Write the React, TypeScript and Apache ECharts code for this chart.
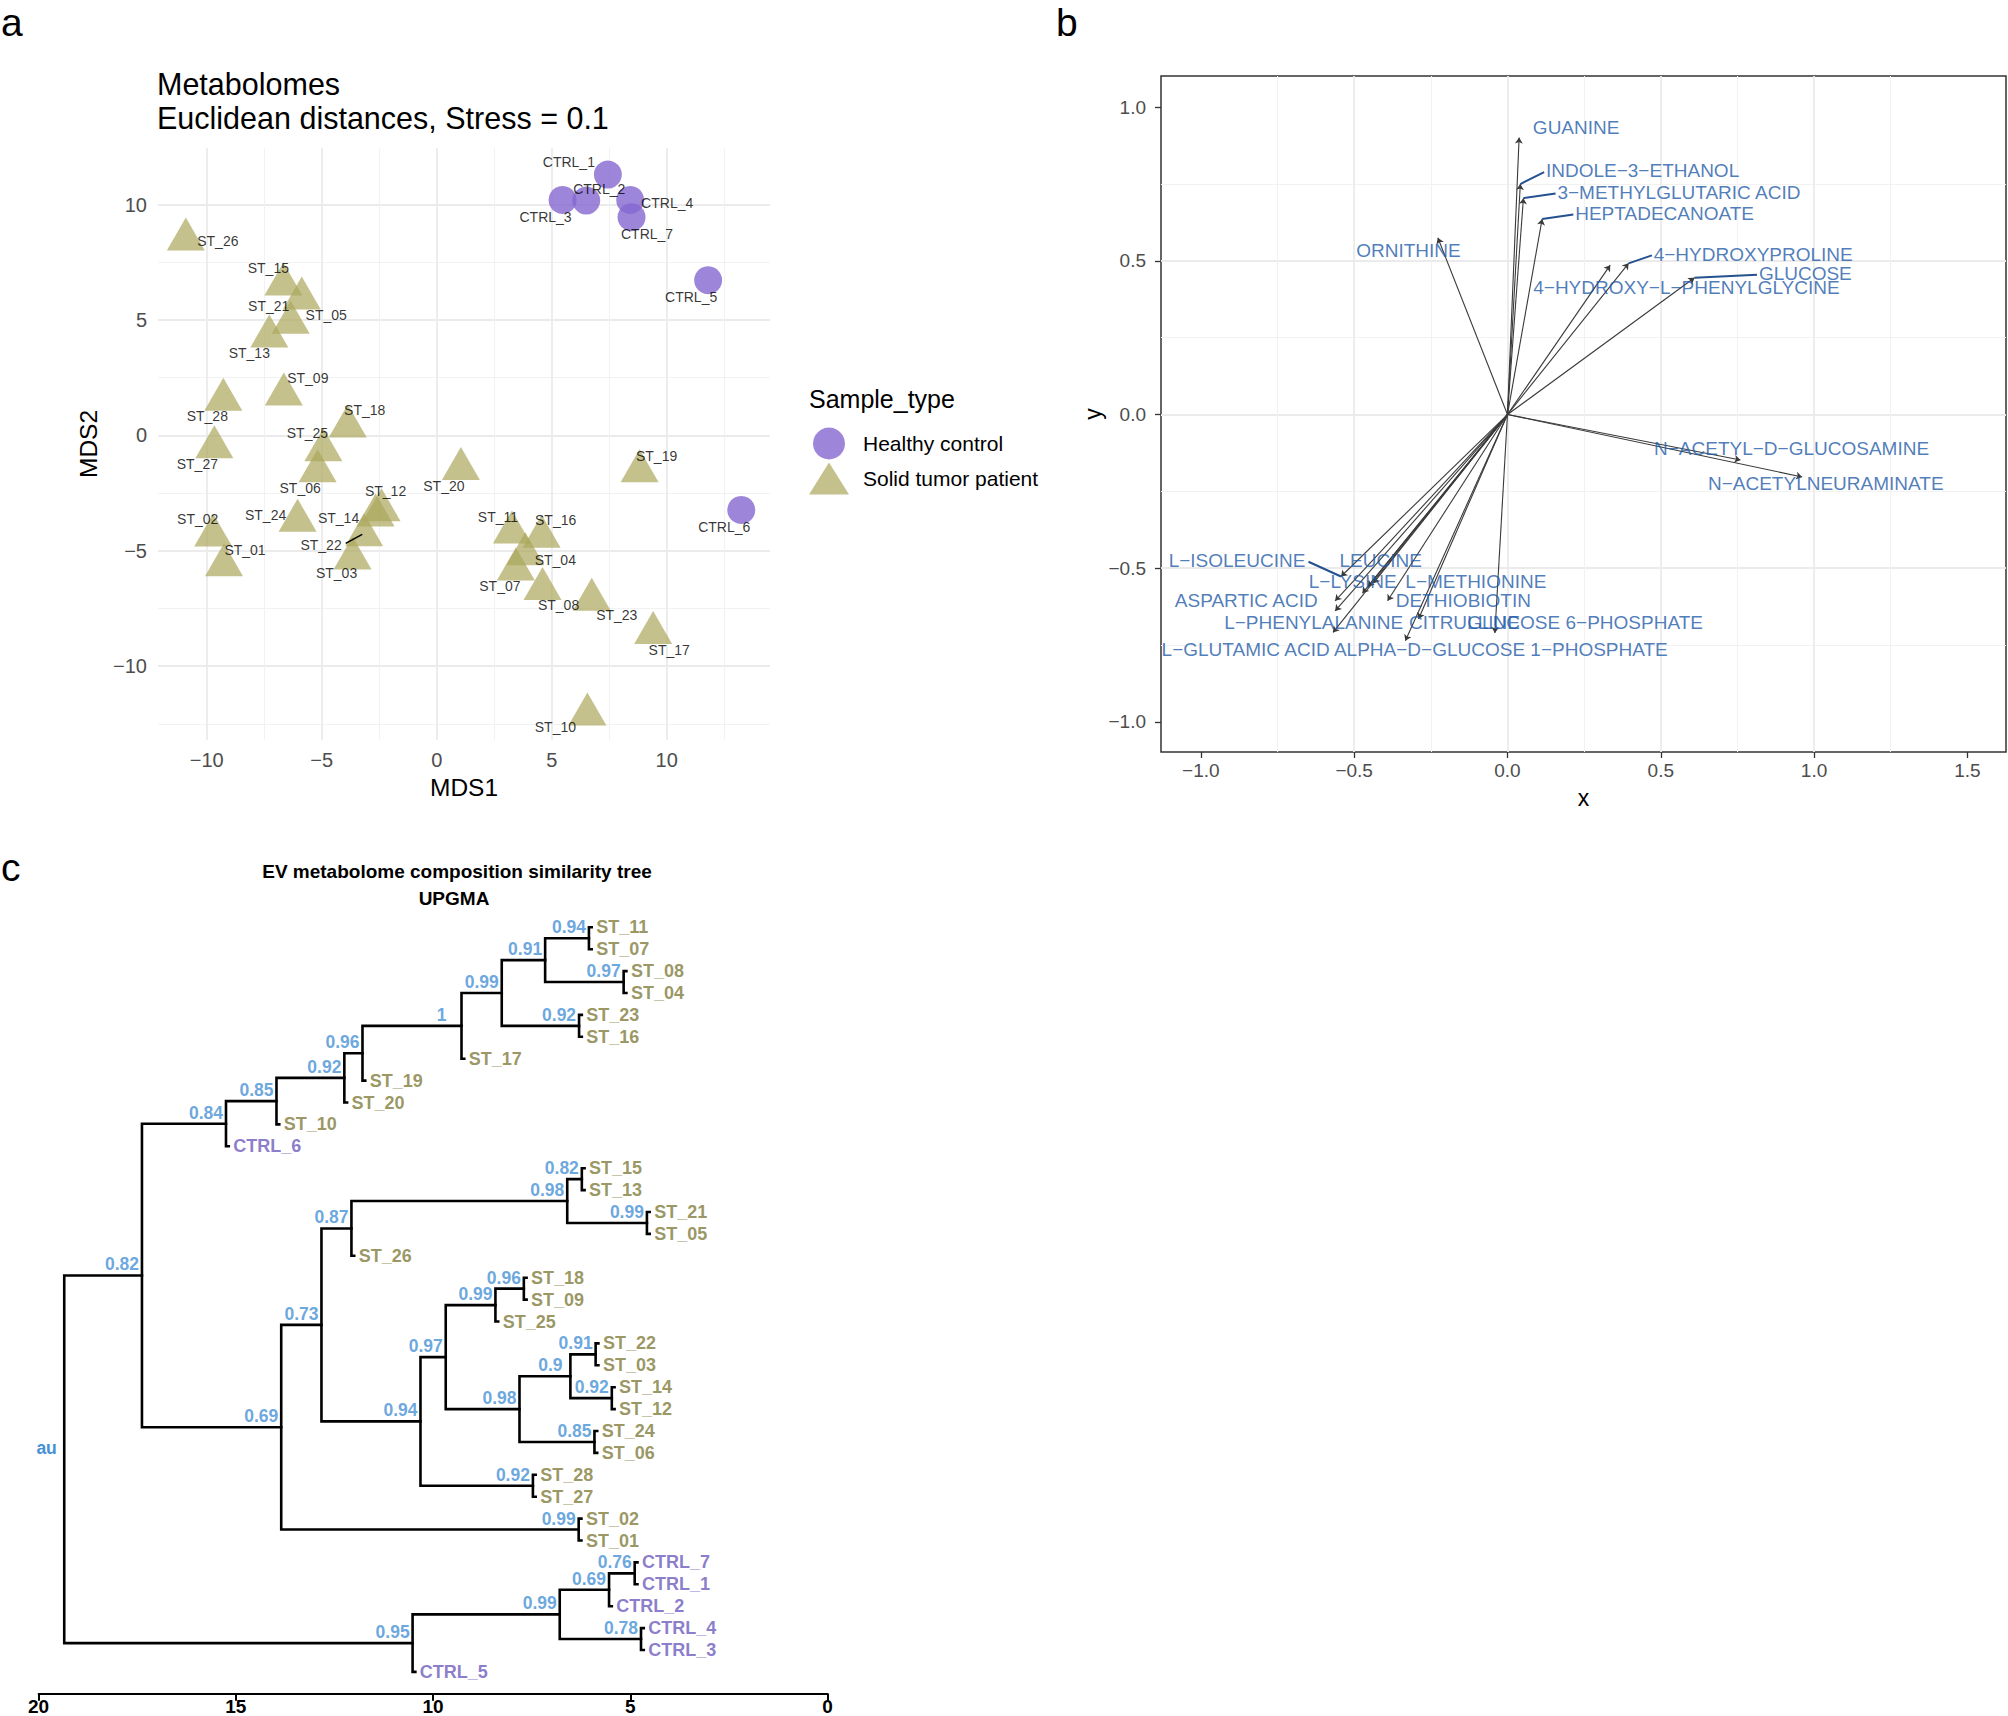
import React, { useEffect, useRef } from 'react';
import * as echarts from 'echarts';

const FONT = "'Liberation Sans', Arial, Helvetica, sans-serif";
const MINUS = '\u2212';

// ---------- Panel a : NMDS ----------
const ctrlNames = ['CTRL_1', 'CTRL_2', 'CTRL_3', 'CTRL_4', 'CTRL_5', 'CTRL_6', 'CTRL_7'];
const ctrlMDS1 = [7.44, 6.5, 5.47, 8.41, 11.8, 13.24, 8.47];
const ctrlMDS2 = [11.3, 10.17, 10.2, 10.2, 6.72, -3.23, 9.45];

const stNames = ['ST_01', 'ST_02', 'ST_03', 'ST_04', 'ST_05', 'ST_06', 'ST_07', 'ST_08', 'ST_09', 'ST_10',
  'ST_11', 'ST_12', 'ST_13', 'ST_14', 'ST_15', 'ST_16', 'ST_17', 'ST_18', 'ST_19', 'ST_20',
  'ST_21', 'ST_22', 'ST_23', 'ST_24', 'ST_25', 'ST_26', 'ST_27', 'ST_28'];
const stMDS1 = [-9.25, -9.72, -3.66, 3.85, -5.87, -5.18, 3.44, 4.6, -6.65, 6.55,
  3.27, -2.4, -7.28, -2.66, -6.67, 4.56, 9.41, -3.87, 8.82, 1.05,
  -6.35, -3.16, 6.74, -6.05, -4.93, -10.91, -9.67, -9.28];
const stMDS2 = [-5.39, -4.1, -5.1, -4.91, 6.17, -1.32, -5.57, -6.42, 2.01, -11.86,
  -3.97, -3.01, 4.52, -3.23, 6.77, -4.16, -8.33, 0.62, -1.32, -1.22,
  5.12, -4.09, -6.88, -3.46, -0.41, 8.72, -0.28, 1.78];

// label nudges in pixels (repel layout), kept apart from the data
const labelNudge: Record<string, [number, number]> = {
  CTRL_1: [-39, -13], CTRL_2: [13, -12], CTRL_3: [-17, 17], CTRL_4: [37, 3], CTRL_5: [-17, 17],
  CTRL_6: [-17, 17], CTRL_7: [15.5, 17],
  ST_01: [21, -10], ST_02: [-15.5, -11], ST_03: [-16, 20], ST_04: [30, 11], ST_05: [24.5, 22],
  ST_06: [-17.5, 22], ST_07: [-16, 22], ST_08: [16, 21], ST_09: [24, -11], ST_10: [-32, 18],
  ST_11: [-14, -10], ST_12: [4, -14], ST_13: [-20, 22], ST_14: [-37, 8], ST_15: [-15, -11],
  ST_16: [14, -11], ST_17: [16, 22], ST_18: [17, -11], ST_19: [17, -10], ST_20: [-17, 22],
  ST_21: [-22, -11], ST_22: [-43, 15], ST_23: [25, 21], ST_24: [-32, 0], ST_25: [-16, -12],
  ST_26: [32, 7], ST_27: [-17, 22], ST_28: [-16, 22],
};
const st22Leader = [[-3.96, -4.68], [-3.24, -4.29]];

// ---------- Panel b : biplot ----------
const bNames = ['GUANINE', 'INDOLE\u22123\u2212ETHANOL', '3\u2212METHYLGLUTARIC ACID', 'HEPTADECANOATE', 'ORNITHINE',
  '4\u2212HYDROXYPROLINE', '4\u2212HYDROXY\u2212L\u2212PHENYLGLYCINE', 'GLUCOSE', 'N\u2212ACETYL\u2212D\u2212GLUCOSAMINE',
  'N\u2212ACETYLNEURAMINATE', 'L\u2212ISOLEUCINE', 'LEUCINE', 'L\u2212LYSINE', 'L\u2212METHIONINE', 'ASPARTIC ACID',
  'DETHIOBIOTIN', 'L\u2212PHENYLALANINE', 'CITRULLINE', 'GLUCOSE 6\u2212PHOSPHATE', 'L\u2212GLUTAMIC ACID',
  'ALPHA\u2212D\u2212GLUCOSE 1\u2212PHOSPHATE'];
const bX = [0.038, 0.042, 0.052, 0.113, -0.227, 0.395, 0.335, 0.61, 0.76, 0.961, -0.543, -0.455, -0.473,
  -0.437, -0.562, -0.391, -0.562, -0.29, -0.041, -0.569, -0.333];
const bY = [0.901, 0.75, 0.704, 0.636, 0.575, 0.492, 0.486, 0.445, -0.148, -0.203, -0.527, -0.56, -0.581,
  -0.549, -0.606, -0.606, -0.639, -0.665, -0.711, -0.709, -0.736];
// text layout (repel result): anchor x, y, alignment, leader
const bLabX = [0.224, 0.1256, 0.163, 0.221, -0.323, 0.477, 0.084, 0.82, 0.478, 0.654, -0.659, -0.548, -0.648,
  -0.333, -1.085, -0.364, -0.924, -0.321, -0.131, -1.128, -0.566];
const bLabY = [0.935, 0.793, 0.723, 0.655, 0.535, 0.522, 0.413, 0.459, -0.109, -0.225, -0.475, -0.475, -0.543,
  -0.543, -0.606, -0.606, -0.677, -0.677, -0.677, -0.766, -0.766];
const bLabAlign = ['center', 'left', 'left', 'left', 'center', 'left', 'left', 'left', 'left', 'left', 'right',
  'left', 'left', 'left', 'left', 'left', 'left', 'left', 'left', 'left', 'left'];
const bLeader = [0, 1, 1, 1, 0, 1, 0, 1, 0, 0, 1, 0, 0, 0, 0, 0, 0, 0, 0, 0, 0];
const bTicks = [-1, -0.5, 0, 0.5, 1, 1.5];

// ---------- Panel c : UPGMA tree ----------
const treeLeaves = ['ST_11', 'ST_07', 'ST_08', 'ST_04', 'ST_23', 'ST_16', 'ST_17', 'ST_19', 'ST_20', 'ST_10',
  'CTRL_6', 'ST_15', 'ST_13', 'ST_21', 'ST_05', 'ST_26', 'ST_18', 'ST_09', 'ST_25', 'ST_22', 'ST_03', 'ST_14',
  'ST_12', 'ST_24', 'ST_06', 'ST_28', 'ST_27', 'ST_02', 'ST_01', 'CTRL_7', 'CTRL_1', 'CTRL_2', 'CTRL_4',
  'CTRL_3', 'CTRL_5'];
const treeLeft: (string | number)[] = ['ST_11', 'ST_08', 0, 'ST_23', 2, 4, 5, 6, 7, 8, 'ST_15', 'ST_21', 10, 12,
  'ST_18', 14, 'ST_22', 'ST_14', 16, 'ST_24', 18, 15, 'ST_28', 21, 13, 'ST_02', 24, 9, 'CTRL_7', 28, 'CTRL_4', 29, 31, 27];
const treeRight: (string | number)[] = ['ST_07', 'ST_04', 1, 'ST_16', 3, 'ST_17', 'ST_19', 'ST_20', 'ST_10', 'CTRL_6',
  'ST_13', 'ST_05', 11, 'ST_26', 'ST_09', 'ST_25', 'ST_03', 'ST_12', 17, 'ST_06', 19, 20, 'ST_27', 22, 23, 'ST_01',
  25, 26, 'CTRL_1', 'CTRL_2', 'CTRL_3', 30, 'CTRL_5', 32];
const treeHeight = [6.05, 5.17, 7.16, 6.3, 8.26, 9.28, 11.79, 12.25, 13.97, 15.25, 6.23, 4.58, 6.6, 12.07, 7.7,
  8.42, 5.88, 5.47, 6.52, 5.91, 7.81, 9.68, 7.47, 10.32, 12.83, 6.31, 13.85, 17.38, 4.89, 5.54, 4.73, 6.79,
  10.52, 19.35];
const treeAU: (number | null)[] = [0.94, 0.97, 0.91, 0.92, 0.99, 1, 0.96, 0.92, 0.85, 0.84, 0.82, 0.99, 0.98, 0.87,
  0.96, 0.99, 0.91, 0.92, 0.9, 0.85, 0.98, 0.97, 0.92, 0.94, 0.73, 0.99, 0.69, 0.82, 0.76, 0.69, 0.78, 0.99,
  0.95, null];

const fmtInt = (v: number) => (v < 0 ? MINUS : '') + String(Math.abs(v));
const fmt1 = (v: number) => (v < 0 ? MINUS : '') + Math.abs(v).toFixed(1);

function buildOption() {
  const PURPLE = '#8566D0';
  const OLIVE = '#ABA65B';
  const BLUE = '#1F5CA8';
  const TREE_ST = '#7F7C3B';
  const TREE_CTRL = '#6E5BBE';
  const AU = '#4590D6';

  // panel a
  const ctrlData = ctrlNames.map((n, i) => ({ name: n, value: [ctrlMDS1[i], ctrlMDS2[i]] }));
  const stData = stNames.map((n, i) => ({ name: n, value: [stMDS1[i], stMDS2[i]] }));
  const aLabels = [...ctrlData, ...stData].map((d) => ({
    name: d.name,
    value: d.value,
    label: { offset: labelNudge[d.name] || [0, 0] },
  }));

  // panel b
  const arrows = bNames.map((n, i) => ({ coords: [[0, 0], [bX[i], bY[i]]] }));
  const leaders: any[] = [];
  bNames.forEach((n, i) => {
    if (!bLeader[i]) return;
    const gap = bLabAlign[i] === 'right' ? 0.01 : -0.006;
    leaders.push({ coords: [[bX[i], bY[i]], [bLabX[i] + gap, bLabY[i] - 0.004]] });
  });
  const bLabels = bNames.map((n, i) => ({
    name: n,
    value: [bLabX[i], bLabY[i]],
    label: { align: bLabAlign[i] },
  }));

  // panel c
  const HANG = 0.07;
  const leafIdx: Record<string, number> = {};
  treeLeaves.forEach((n, i) => (leafIdx[n] = i));
  const nodeY: number[] = [];
  const brackets: any[] = [];
  const auPts: any[] = [];
  const leafPts: any[] = [];
  for (let i = 0; i < treeHeight.length; i++) {
    const h = treeHeight[i];
    const kids = [treeLeft[i], treeRight[i]];
    const pts = kids.map((k) =>
      typeof k === 'string' ? [h - HANG, leafIdx[k]] : [treeHeight[k as number], nodeY[k as number]]
    );
    kids.forEach((k) => {
      if (typeof k === 'string') {
        leafPts.push({
          name: k,
          value: [h - HANG, leafIdx[k]],
          label: { color: k.startsWith('CTRL') ? TREE_CTRL : TREE_ST },
        });
      }
    });
    const y = (pts[0][1] + pts[1][1]) / 2;
    nodeY[i] = y;
    brackets.push({ coords: [pts[0], [h, pts[0][1]], [h, pts[1][1]], pts[1]] });
    if (treeAU[i] !== null) auPts.push({ name: String(treeAU[i]), value: [h, y] });
  }

  const minorGrid = { show: true, lineStyle: { color: '#F2F2F2', width: 1 } };
  const majorGrid = { show: true, showMinLine: false, showMaxLine: false, lineStyle: { color: '#EBEBEB', width: 1.8 } };

  return {
    animation: false,
    backgroundColor: '#FFFFFF',
    textStyle: { fontFamily: FONT },
    title: [
      {
        text: 'Metabolomes\nEuclidean distances, Stress = 0.1',
        left: 157,
        top: 67,
        padding: 0,
        textStyle: { fontSize: 30.5, fontWeight: 'normal', color: '#000', lineHeight: 34, fontFamily: FONT },
      },
    ],
    legend: {
      show: true,
      orient: 'vertical',
      left: 809,
      top: 427.5,
      padding: 0,
      itemWidth: 40,
      itemHeight: 32,
      itemGap: 3,
      selectedMode: false,
      textStyle: { fontSize: 21, color: '#000', fontFamily: FONT, padding: [0, 0, 0, 9] },
      data: [
        { name: 'Healthy control', icon: 'circle' },
        { name: 'Solid tumor patient', icon: 'triangle' },
      ],
    },
    grid: [
      { left: 158, top: 148, width: 612, height: 592, containLabel: false },
      {
        left: 1161, top: 76, width: 845, height: 676, containLabel: false, show: true,
        borderColor: '#333333', borderWidth: 1.5, backgroundColor: 'rgba(0,0,0,0)',
      },
      { left: 38.6, top: 905.4, width: 789, height: 788.4, containLabel: false },
    ],
    xAxis: [
      {
        gridIndex: 0, type: 'value', min: -12.12, max: 14.49, minInterval: 5, maxInterval: 5, splitNumber: 5,
        axisLine: { show: false, onZero: false }, axisTick: { show: false },
        axisLabel: { fontSize: 20, color: '#4D4D4D', margin: 10, formatter: fmtInt, showMinLabel: false, showMaxLabel: false },
        splitLine: majorGrid,
        minorTick: { show: false, splitNumber: 2 },
        minorSplitLine: minorGrid,
        name: 'MDS1', nameLocation: 'middle', nameGap: 35,
        nameTextStyle: { fontSize: 24.5, color: '#000', fontFamily: FONT },
      },
      {
        gridIndex: 1, type: 'value', min: -1.13, max: 1.626, minInterval: 0.5, maxInterval: 0.5, splitNumber: 5,
        axisLine: { show: false, onZero: false },
        axisTick: { show: true, length: 6, lineStyle: { color: '#333333', width: 1.3 }, customValues: bTicks },
        axisLabel: { fontSize: 19, color: '#4D4D4D', margin: 9, formatter: fmt1, showMinLabel: false, showMaxLabel: false },
        splitLine: majorGrid,
        minorTick: { show: false, splitNumber: 2 },
        minorSplitLine: minorGrid,
        name: 'x', nameLocation: 'middle', nameGap: 34,
        nameTextStyle: { fontSize: 23, color: '#000', fontFamily: FONT },
      },
      {
        gridIndex: 2, type: 'value', min: 0, max: 20, interval: 5, inverse: true, position: 'bottom',
        axisLine: { show: true, onZero: false, lineStyle: { color: '#000', width: 2 } },
        axisTick: { show: true, length: 7, lineStyle: { color: '#000', width: 2 } },
        axisLabel: { fontSize: 19, color: '#000', fontWeight: 'bold', margin: 3 },
        splitLine: { show: false },
      },
    ],
    yAxis: [
      {
        gridIndex: 0, type: 'value', min: -13.2, max: 12.45, minInterval: 5, maxInterval: 5, splitNumber: 5,
        axisLine: { show: false, onZero: false }, axisTick: { show: false },
        axisLabel: { fontSize: 20, color: '#4D4D4D', margin: 11, formatter: fmtInt, showMinLabel: false, showMaxLabel: false },
        splitLine: majorGrid,
        minorTick: { show: false, splitNumber: 2 },
        minorSplitLine: minorGrid,
        name: 'MDS2', nameLocation: 'middle', nameGap: 57, nameRotate: 90,
        nameTextStyle: { fontSize: 24.5, color: '#000', fontFamily: FONT },
      },
      {
        gridIndex: 1, type: 'value', min: -1.098, max: 1.1015, minInterval: 0.5, maxInterval: 0.5, splitNumber: 5,
        axisLine: { show: false, onZero: false },
        axisTick: { show: true, length: 6, lineStyle: { color: '#333333', width: 1.3 }, customValues: bTicks },
        axisLabel: { fontSize: 19, color: '#4D4D4D', margin: 15, formatter: fmt1, showMinLabel: false, showMaxLabel: false },
        splitLine: majorGrid,
        minorTick: { show: false, splitNumber: 2 },
        minorSplitLine: minorGrid,
        name: 'y', nameLocation: 'middle', nameGap: 52, nameRotate: 90,
        nameTextStyle: { fontSize: 23, color: '#000', fontFamily: FONT },
      },
      { gridIndex: 2, type: 'value', min: -1, max: 35, inverse: true, show: false, axisLine: { onZero: false } },
    ],
    series: [
      {
        name: 'Healthy control', type: 'scatter', xAxisIndex: 0, yAxisIndex: 0,
        symbol: 'circle', symbolSize: 28, data: ctrlData,
        itemStyle: { color: PURPLE, opacity: 0.8 }, emphasis: { disabled: true }, z: 2,
      },
      {
        name: 'Solid tumor patient', type: 'scatter', xAxisIndex: 0, yAxisIndex: 0,
        symbol: 'triangle', symbolSize: [38, 33], data: stData,
        itemStyle: { color: OLIVE, opacity: 0.7 }, emphasis: { disabled: true }, z: 2,
      },
      {
        name: 'sample labels', type: 'scatter', xAxisIndex: 0, yAxisIndex: 0,
        symbol: 'circle', symbolSize: 1, itemStyle: { color: 'rgba(0,0,0,0)' }, data: aLabels,
        label: {
          show: true, position: 'inside', formatter: '{b}', fontSize: 14, color: '#000',
          fontFamily: FONT, textBorderWidth: 0, align: 'center', verticalAlign: 'middle',
        },
        emphasis: { disabled: true }, z: 5,
      },
      {
        name: 'ST_22 leader', type: 'lines', coordinateSystem: 'cartesian2d', xAxisIndex: 0, yAxisIndex: 0,
        data: [{ coords: st22Leader }], lineStyle: { color: '#000', width: 1.6, opacity: 1 }, z: 5,
      },
      {
        name: 'loadings', type: 'lines', coordinateSystem: 'cartesian2d', xAxisIndex: 1, yAxisIndex: 1,
        data: arrows, symbol: ['none', 'arrow'], symbolSize: 6,
        lineStyle: { color: '#3A3A3A', width: 1.1, opacity: 1 }, z: 3,
      },
      {
        name: 'label leaders', type: 'lines', coordinateSystem: 'cartesian2d', xAxisIndex: 1, yAxisIndex: 1,
        data: leaders, lineStyle: { color: '#24518F', width: 2, opacity: 1 }, z: 4,
      },
      {
        name: 'loading labels', type: 'scatter', xAxisIndex: 1, yAxisIndex: 1,
        symbol: 'circle', symbolSize: 1, itemStyle: { color: 'rgba(0,0,0,0)' }, data: bLabels,
        label: {
          show: true, position: 'inside', formatter: '{b}', fontSize: 19, color: BLUE,
          fontFamily: FONT, textBorderWidth: 0, verticalAlign: 'middle',
        },
        emphasis: { disabled: true }, z: 5,
      },
      {
        name: 'tree', type: 'lines', coordinateSystem: 'cartesian2d', xAxisIndex: 2, yAxisIndex: 2,
        polyline: true, data: brackets, lineStyle: { color: '#000', width: 2.6, opacity: 1, cap: 'square' }, z: 3,
      },
      {
        name: 'leaf labels', type: 'scatter', xAxisIndex: 2, yAxisIndex: 2,
        symbol: 'circle', symbolSize: 1, itemStyle: { color: 'rgba(0,0,0,0)' }, data: leafPts,
        label: {
          show: true, position: 'right', distance: 4, formatter: '{b}', fontSize: 18, fontWeight: 'bold',
          fontFamily: FONT, textBorderWidth: 0,
        },
        emphasis: { disabled: true }, z: 5,
      },
      {
        name: 'au values', type: 'scatter', xAxisIndex: 2, yAxisIndex: 2,
        symbol: 'circle', symbolSize: 1, itemStyle: { color: 'rgba(0,0,0,0)' }, data: auPts,
        label: {
          show: true, position: 'inside', offset: [-20, -11], formatter: '{b}', fontSize: 17.5,
          fontWeight: 'bold', color: AU, fontFamily: FONT, textBorderWidth: 0, align: 'center', verticalAlign: 'middle',
        },
        emphasis: { disabled: true }, z: 5,
      },
    ],
    graphic: [
      { type: 'text', x: 1, y: 3, style: { text: 'a', font: `39px ${FONT}`, fill: '#000', textVerticalAlign: 'top', verticalAlign: 'top' } },
      { type: 'text', x: 1056, y: 3, style: { text: 'b', font: `39px ${FONT}`, fill: '#000', textVerticalAlign: 'top', verticalAlign: 'top' } },
      { type: 'text', x: 1, y: 848, style: { text: 'c', font: `39px ${FONT}`, fill: '#000', textVerticalAlign: 'top', verticalAlign: 'top' } },
      { type: 'text', x: 809, y: 399, style: { text: 'Sample_type', font: `25px ${FONT}`, fill: '#000', textVerticalAlign: 'middle', verticalAlign: 'middle' } },
      {
        type: 'text', x: 457, y: 871,
        style: { text: 'EV metabolome composition similarity tree', font: `bold 19px ${FONT}`, fill: '#000', textAlign: 'center', align: 'center', textVerticalAlign: 'middle', verticalAlign: 'middle' },
      },
      {
        type: 'text', x: 454, y: 898,
        style: { text: 'UPGMA', font: `bold 19px ${FONT}`, fill: '#000', textAlign: 'center', align: 'center', textVerticalAlign: 'middle', verticalAlign: 'middle' },
      },
      {
        type: 'text', x: 46.6, y: 1448,
        style: { text: 'au', font: `bold 17.5px ${FONT}`, fill: AU, textAlign: 'center', align: 'center', textVerticalAlign: 'middle', verticalAlign: 'middle' },
      },
    ],
  };
}

export default function App() {
  const ref = useRef<HTMLDivElement>(null);
  useEffect(() => {
    document.body.style.margin = '0';
    if (!ref.current) return;
    const chart = echarts.init(ref.current, null, { renderer: 'svg' });
    chart.setOption(buildOption() as any);
    return () => chart.dispose();
  }, []);
  return (
    <div
      ref={ref}
      style={{ position: 'absolute', left: 0, top: 0, width: 2008, height: 1716, background: '#fff' }}
    />
  );
}
